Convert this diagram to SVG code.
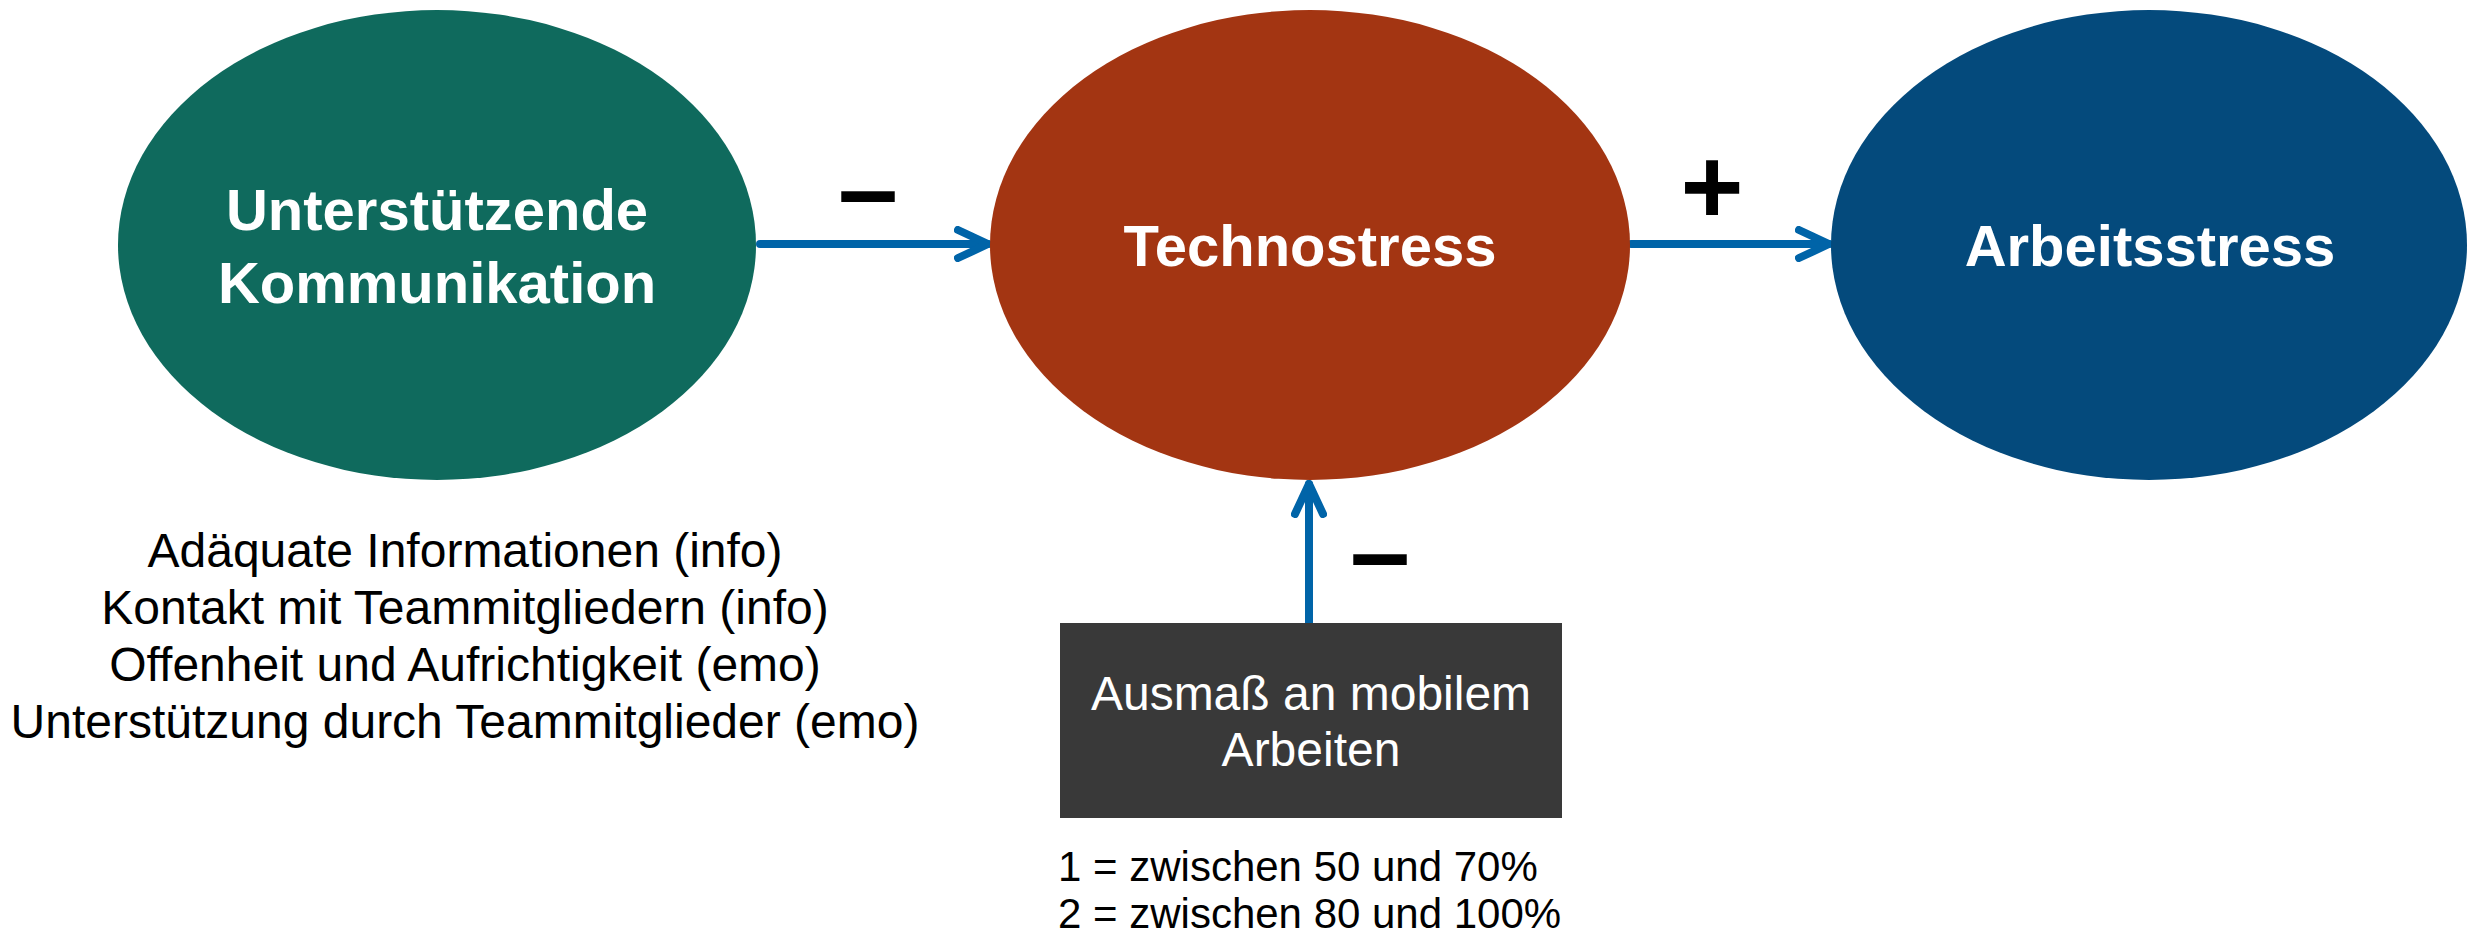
<svg xmlns="http://www.w3.org/2000/svg" width="2468" height="936" viewBox="0 0 2468 936">
<defs>
<style>
.node-title{font-family:"Liberation Sans",Arial,sans-serif;font-weight:bold;font-size:58px;fill:#ffffff;text-anchor:middle}
.box-text{font-family:"Liberation Sans",Arial,sans-serif;font-size:48px;fill:#ffffff;text-anchor:middle}
.note{font-family:"Liberation Sans",Arial,sans-serif;font-size:48px;fill:#000000;text-anchor:middle}
.legend{font-family:"Liberation Sans",Arial,sans-serif;font-size:42px;fill:#000000}
.sign{font-family:"Liberation Sans",Arial,sans-serif;font-weight:bold;font-size:108px;fill:#000000;text-anchor:middle}
.conn{stroke:#0064A8;stroke-width:8;fill:none;stroke-linecap:round;stroke-linejoin:round}
</style>
<marker id="chev" viewBox="-34 -18 38 36" markerWidth="38" markerHeight="36" refX="0" refY="0" markerUnits="userSpaceOnUse" orient="auto">
<path d="M-30,-14 L0,0 L-30,14" fill="none" stroke="#0064A8" stroke-width="8" stroke-linecap="round" stroke-linejoin="round"/>
</marker>
</defs>
<rect width="2468" height="936" fill="#ffffff"/>
<g id="connectors">
<line class="conn" x1="760" y1="244" x2="988" y2="244" marker-end="url(#chev)"/>
<line class="conn" x1="1631" y1="244" x2="1829" y2="244" marker-end="url(#chev)"/>
<line class="conn" x1="1309" y1="623" x2="1309" y2="484" stroke-linecap="butt" marker-end="url(#chev)"/>
<text class="sign" x="868" y="226">–</text>
<text class="sign" x="1712" y="223">+</text>
<text class="sign" x="1380" y="589">–</text>
</g>
<g id="node-kommunikation">
<ellipse cx="437" cy="245" rx="319" ry="235" fill="#0F6A5D"/>
<text class="node-title" x="437" y="230">Unterstützende</text>
<text class="node-title" x="437" y="303">Kommunikation</text>
</g>
<g id="node-technostress">
<ellipse cx="1310" cy="245" rx="320" ry="235" fill="#A33512"/>
<text class="node-title" x="1310" y="266">Technostress</text>
</g>
<g id="node-arbeitsstress">
<ellipse cx="2149" cy="245" rx="318" ry="235" fill="#044A7C"/>
<text class="node-title" x="2150" y="266">Arbeitsstress</text>
</g>
<g id="node-mobil">
<rect x="1060" y="623" width="502" height="195" fill="#393939"/>
<text class="box-text" x="1311" y="710">Ausmaß an mobilem</text>
<text class="box-text" x="1311" y="766">Arbeiten</text>
</g>
<g id="notes-kommunikation">
<text class="note" x="465" y="567">Adäquate Informationen (info)</text>
<text class="note" x="465" y="624">Kontakt mit Teammitgliedern (info)</text>
<text class="note" x="465" y="681">Offenheit und Aufrichtigkeit (emo)</text>
<text class="note" x="465" y="738">Unterstützung durch Teammitglieder (emo)</text>
</g>
<g id="notes-mobil">
<text class="legend" x="1058" y="881">1 = zwischen 50 und 70%</text>
<text class="legend" x="1058" y="928">2 = zwischen 80 und 100%</text>
</g>
</svg>
